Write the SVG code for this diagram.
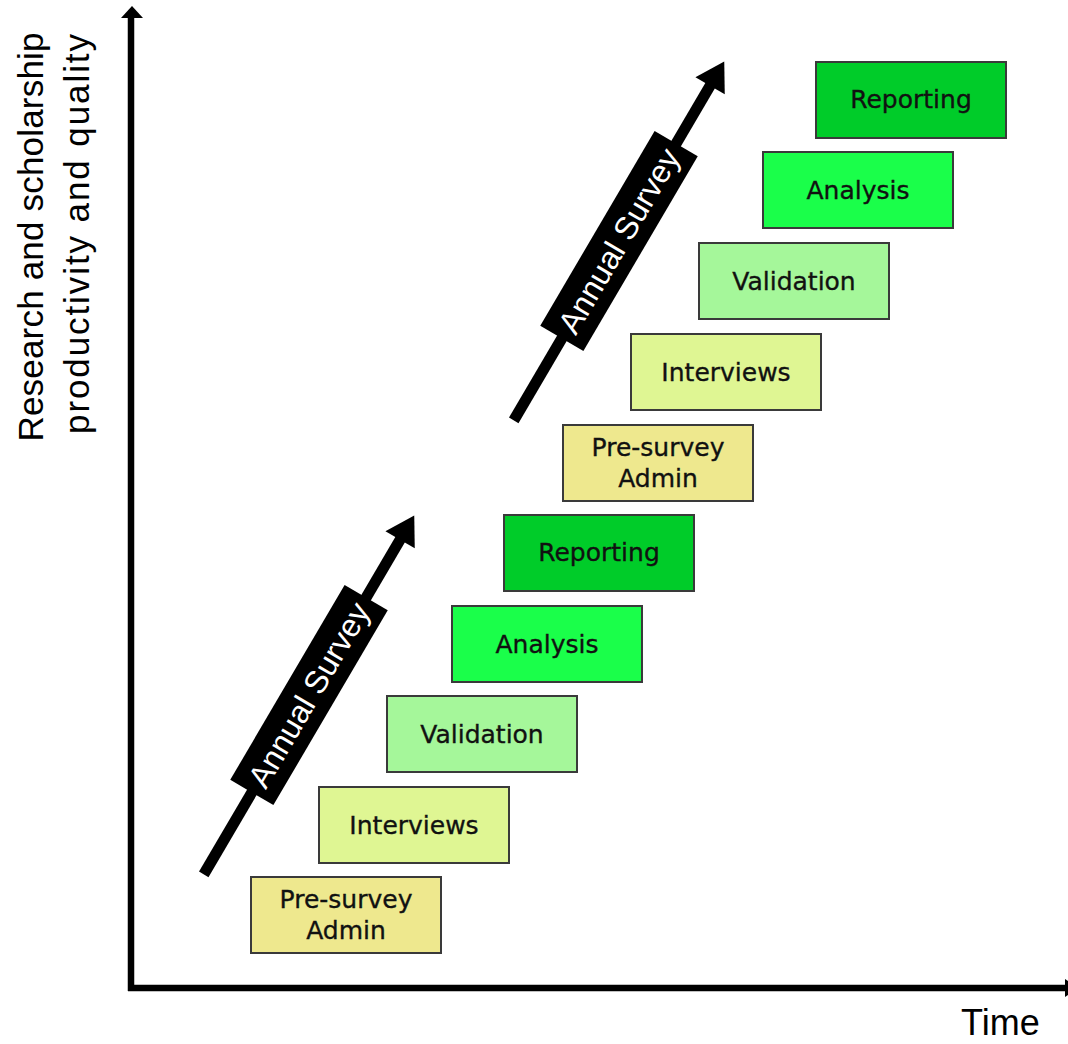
<svg xmlns="http://www.w3.org/2000/svg" width="1068" height="1044" viewBox="0 0 1068 1044">
  <style>
    .box { stroke: #3a3a3a; stroke-width: 2; }
    .lbl { font-family: "DejaVu Sans", "Liberation Sans", sans-serif; font-size: 25px; fill: #111; stroke: #111; stroke-width: 0.35px; text-anchor: middle; }
    .axis { stroke: #000; stroke-width: 6.5; fill: none; }
    .axt { font-family: "Liberation Sans", Arial, sans-serif; fill: #000; }
    .survey { font-family: "Liberation Sans", Arial, sans-serif; font-size: 32px; fill: #fff; text-anchor: middle; }
    .pre { fill: #EEE88E; }
    .int { fill: #DFF693; }
    .val { fill: #A5F79A; }
    .ana { fill: #1AFF4A; }
    .rep { fill: #00CC29; }
  </style>
  <defs>
    <g id="surveyArrow">
      <line x1="-208" y1="0" x2="184" y2="0" stroke="#000" stroke-width="11"/>
      <polygon points="208,0 180,-17 180,17" fill="#000"/>
      <rect x="-113" y="-25" width="226" height="50" fill="#000"/>
      <text class="survey" x="0" y="11">Annual Survey</text>
    </g>
  </defs>
  <rect width="1068" height="1044" fill="#fff"/>

  <g id="axes">
    <path class="axis" d="M131,16 V991"/>
    <polygon points="132,6 121,18 143,18" fill="#000"/>
    <path class="axis" d="M128,988 H1066"/>
    <polygon points="1065,979 1078,988 1065,997" fill="#000"/>
    <text class="axt" font-size="35" transform="translate(43,237) rotate(-90)" text-anchor="middle" textLength="409" lengthAdjust="spacing">Research and scholarship</text>
    <text class="axt" font-size="35" transform="translate(89,234) rotate(-90)" text-anchor="middle" textLength="400" lengthAdjust="spacing">productivity and quality</text>
    <text class="axt" font-size="36" x="961" y="1035">Time</text>
  </g>

  <g id="connectors">
    <use href="#surveyArrow" transform="translate(309,695) rotate(-59.6)"/>
    <use href="#surveyArrow" transform="translate(619,241) rotate(-59.6)"/>
  </g>

  <g id="pre-survey-1">
    <rect class="box pre" x="251" y="877" width="190" height="76"/>
    <text class="lbl" x="346" y="908">Pre-survey</text>
    <text class="lbl" x="346" y="939">Admin</text>
  </g>
  <g id="interviews-1">
    <rect class="box int" x="319" y="787" width="190" height="76"/>
    <text class="lbl" x="414" y="834">Interviews</text>
  </g>
  <g id="validation-1">
    <rect class="box val" x="387" y="696" width="190" height="76"/>
    <text class="lbl" x="482" y="743">Validation</text>
  </g>
  <g id="analysis-1">
    <rect class="box ana" x="452" y="606" width="190" height="76"/>
    <text class="lbl" x="547" y="653">Analysis</text>
  </g>
  <g id="reporting-1">
    <rect class="box rep" x="504" y="515" width="190" height="76"/>
    <text class="lbl" x="599" y="561">Reporting</text>
  </g>

  <g id="pre-survey-2">
    <rect class="box pre" x="563" y="425" width="190" height="76"/>
    <text class="lbl" x="658" y="456">Pre-survey</text>
    <text class="lbl" x="658" y="487">Admin</text>
  </g>
  <g id="interviews-2">
    <rect class="box int" x="631" y="334" width="190" height="76"/>
    <text class="lbl" x="726" y="381">Interviews</text>
  </g>
  <g id="validation-2">
    <rect class="box val" x="699" y="243" width="190" height="76"/>
    <text class="lbl" x="794" y="290">Validation</text>
  </g>
  <g id="analysis-2">
    <rect class="box ana" x="763" y="152" width="190" height="76"/>
    <text class="lbl" x="858" y="199">Analysis</text>
  </g>
  <g id="reporting-2">
    <rect class="box rep" x="816" y="62" width="190" height="76"/>
    <text class="lbl" x="911" y="108">Reporting</text>
  </g>
</svg>
